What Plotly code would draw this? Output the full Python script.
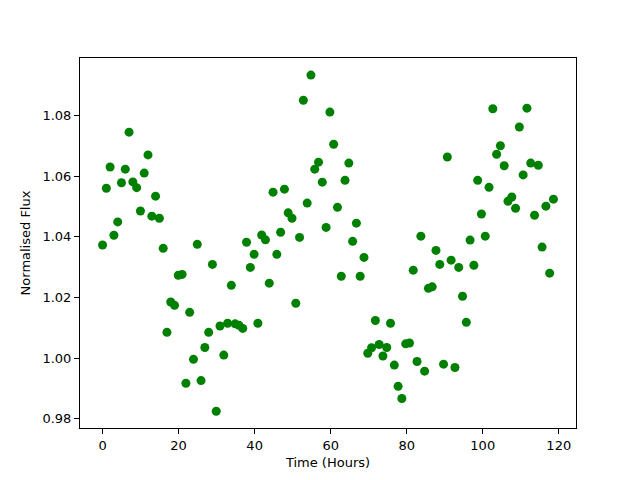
import plotly.graph_objects as go

time_hours = [0.00, 1.00, 1.99, 2.99, 3.99, 4.98, 5.98, 6.98, 7.97, 8.97,
              9.97, 10.96, 11.96, 12.96, 13.95, 14.95, 15.95, 16.94, 17.94, 18.94,
              19.93, 20.93, 21.93, 22.92, 23.92, 24.92, 25.91, 26.91, 27.91, 28.90,
              29.90, 30.89, 31.89, 32.89, 33.88, 34.88, 35.88, 36.87, 37.87, 38.87,
              39.86, 40.86, 41.86, 42.85, 43.85, 44.85, 45.84, 46.84, 47.84, 48.83,
              49.83, 50.83, 51.82, 52.82, 53.82, 54.81, 55.81, 56.81, 57.80, 58.80,
              59.80, 60.79, 61.79, 62.79, 63.78, 64.78, 65.78, 66.77, 67.77, 68.77,
              69.76, 70.76, 71.76, 72.75, 73.75, 74.75, 75.74, 76.74, 77.74, 78.73,
              79.73, 80.73, 81.72, 82.72, 83.72, 84.71, 85.71, 86.71, 87.70, 88.70,
              89.70, 90.69, 91.69, 92.69, 93.68, 94.68, 95.68, 96.67, 97.67, 98.67,
              99.66, 100.66, 101.66, 102.65, 103.65, 104.65, 105.64, 106.64, 107.64, 108.63,
              109.63, 110.63, 111.62, 112.62, 113.62, 114.61, 115.61, 116.61, 117.60, 118.60]

flux = [1.0373, 1.0560, 1.0630, 1.0405, 1.0449, 1.0578, 1.0623, 1.0745, 1.0581, 1.0562,
        1.0485, 1.0610, 1.0670, 1.0468, 1.0534, 1.0461, 1.0362, 1.0085, 1.0185, 1.0174,
        1.0273, 1.0276, 0.9917, 1.0151, 0.9996, 1.0375, 0.9926, 1.0035, 1.0085, 1.0309,
        0.9825, 1.0106, 1.0010, 1.0115, 1.0240, 1.0113, 1.0108, 1.0098, 1.0382, 1.0299,
        1.0342, 1.0115, 1.0406, 1.0390, 1.0247, 1.0547, 1.0342, 1.0415, 1.0557, 1.0479,
        1.0461, 1.0181, 1.0398, 1.0850, 1.0511, 1.0933, 1.0623, 1.0646, 1.0580, 1.0431,
        1.0811, 1.0705, 1.0497, 1.0270, 1.0586, 1.0643, 1.0385, 1.0445, 1.0270, 1.0332,
        1.0016, 1.0034, 1.0124, 1.0045, 1.0007, 1.0035, 1.0115, 0.9977, 0.9907, 0.9867,
        1.0047, 1.0050, 1.0290, 0.9989, 1.0402, 0.9957, 1.0230, 1.0235, 1.0355, 1.0309,
        0.9980, 1.0663, 1.0323, 0.9969, 1.0299, 1.0204, 1.0118, 1.0389, 1.0306, 1.0586,
        1.0475, 1.0402, 1.0563, 1.0822, 1.0672, 1.0700, 1.0634, 1.0517, 1.0531, 1.0494,
        1.0762, 1.0604, 1.0824, 1.0643, 1.0471, 1.0636, 1.0366, 1.0501, 1.0280, 1.0524]

x_ticks = [0, 20, 40, 60, 80, 100, 120]
y_ticks = [0.98, 1.00, 1.02, 1.04, 1.06, 1.08]

fig = go.Figure(go.Scatter(
    x=time_hours, y=flux, mode="markers",
    marker=dict(color="#008000", size=9, line=dict(width=0)),
))

font = dict(family="DejaVu Sans", size=13, color="black")
axis_common = dict(
    showline=True, linecolor="black", linewidth=1, mirror=True,
    ticks="outside", ticklen=5, tickwidth=1, tickcolor="black",
    showgrid=False, zeroline=False, tickfont=font, automargin=False,
)
fig.update_xaxes(range=[-5.93, 124.53], tickvals=x_ticks,
                 ticktext=[str(v) for v in x_ticks],
                 title=dict(text="Time (Hours)", font=font, standoff=6), **axis_common)
fig.update_yaxes(range=[0.97696, 1.09894], tickvals=y_ticks,
                 ticktext=[f"{v:.2f}" for v in y_ticks],
                 title=dict(text="Normalised Flux", font=font, standoff=8), **axis_common)
# The page body adds an 8px offset, so the figure is drawn 8px smaller
fig.update_layout(
    width=632, height=472, autosize=False,
    margin=dict(l=72, r=64, t=50, b=52, pad=0),
    paper_bgcolor="white", plot_bgcolor="white",
    showlegend=False, font=font,
)
fig.write_html("out.html")
